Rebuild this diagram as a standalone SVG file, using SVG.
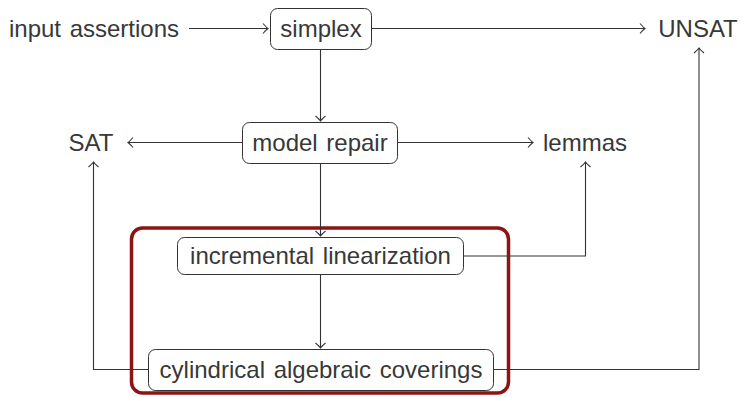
<svg xmlns="http://www.w3.org/2000/svg" width="742" height="397" viewBox="0 0 742 397">
<defs>
<marker id="to" markerWidth="12" markerHeight="12" refX="0" refY="0" viewBox="-7 -6 8 12" orient="auto" markerUnits="userSpaceOnUse">
<path d="M -5 -5 Q -1.5 -1 0 0 Q -1.5 1 -5 5" fill="none" stroke="#333" stroke-width="1.1"/>
</marker>
</defs>
<style>
text { font-family: "Liberation Sans", Arial, sans-serif; font-size: 24px; fill: #383838; text-anchor: middle; word-spacing: 2px; }
.box { fill: #fff; stroke: #333; stroke-width: 1; }
.edge { fill: none; stroke: #333; stroke-width: 1.1; }
.arr { marker-end: url(#to); }
</style>
<rect x="131.5" y="228" width="377" height="165" rx="11" fill="none" stroke="#8b1515" stroke-width="3.5"/>
<g id="connectors">
<path class="edge arr" d="M 189 28.5 H 268"/>
<path class="edge arr" d="M 371.5 28.5 H 645"/>
<path class="edge arr" d="M 320.5 49.5 V 121"/>
<path class="edge arr" d="M 242 142.5 H 128"/>
<path class="edge arr" d="M 398 142.5 H 533"/>
<path class="edge arr" d="M 320.5 163.5 V 236"/>
<path class="edge arr" d="M 464 256 H 585.5 V 162"/>
<path class="edge arr" d="M 320.5 274.5 V 348"/>
<path class="edge arr" d="M 148 369.5 H 93.5 V 162"/>
<path class="edge arr" d="M 493.5 369.5 H 699 V 48"/>
</g>
<g id="input"><text x="94" y="37">input assertions</text></g>
<g id="simplex"><rect class="box" x="270.5" y="8.5" width="101" height="41" rx="7"/><text x="321" y="37">simplex</text></g>
<g id="unsat"><text x="698" y="37">UNSAT</text></g>
<g id="modelrepair"><rect class="box" x="242.5" y="122.5" width="155" height="41" rx="7"/><text x="320" y="151">model repair</text></g>
<g id="sat"><text x="91" y="151">SAT</text></g>
<g id="lemmas"><text x="585" y="151">lemmas</text></g>
<g id="inclin"><rect class="box" x="177.5" y="237.5" width="286" height="37" rx="7"/><text x="320.5" y="264">incremental linearization</text></g>
<g id="cac"><rect class="box" x="148.5" y="349.5" width="345" height="41" rx="7"/><text x="321" y="378">cylindrical algebraic coverings</text></g>
</svg>
